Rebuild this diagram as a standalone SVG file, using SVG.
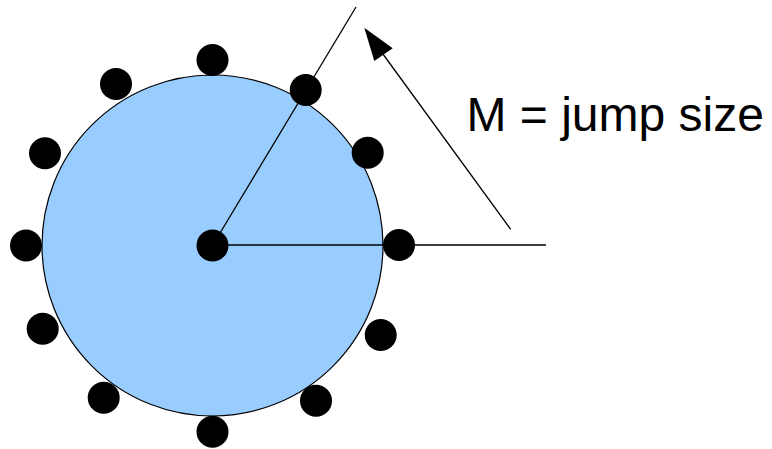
<svg xmlns="http://www.w3.org/2000/svg" width="772" height="449" viewBox="0 0 772 449">
<style>
.dot{fill:#000}
.ln{stroke:#000;stroke-width:1.3;fill:none}
</style>
<rect width="772" height="449" fill="#fff"/>
<g id="disk"><circle cx="212.5" cy="245.5" r="170.5" fill="#99ccff" stroke="#000" stroke-width="1.2"/></g>
<g id="connectors">
<line class="ln" x1="212.5" y1="245.5" x2="356" y2="7"/>
<line class="ln" x1="212.5" y1="245" x2="546" y2="245"/>
<line class="ln" x1="510.7" y1="229.3" x2="380" y2="50"/>
<polygon points="364.3,27.7 392.7,48.3 374.3,61" fill="#000"/>
</g>
<g id="nodes">
<circle class="dot" cx="212.5" cy="245.5" r="16"/>
<circle class="dot" cx="212.5" cy="60" r="16"/>
<circle class="dot" cx="116" cy="84" r="16"/>
<circle class="dot" cx="305.7" cy="90" r="16"/>
<circle class="dot" cx="45" cy="153.3" r="16"/>
<circle class="dot" cx="367.7" cy="152.7" r="16"/>
<circle class="dot" cx="26" cy="245.5" r="16"/>
<circle class="dot" cx="399" cy="245" r="16"/>
<circle class="dot" cx="42.7" cy="328.7" r="16"/>
<circle class="dot" cx="380.7" cy="335" r="16"/>
<circle class="dot" cx="103.7" cy="397.7" r="16"/>
<circle class="dot" cx="316" cy="400.7" r="16"/>
<circle class="dot" cx="212.5" cy="431.7" r="16"/>
</g>
<g id="label"><text x="466.5" y="130.5" font-family="'Liberation Sans', Arial, sans-serif" font-size="48" fill="#000">M = jump size</text></g>
</svg>
